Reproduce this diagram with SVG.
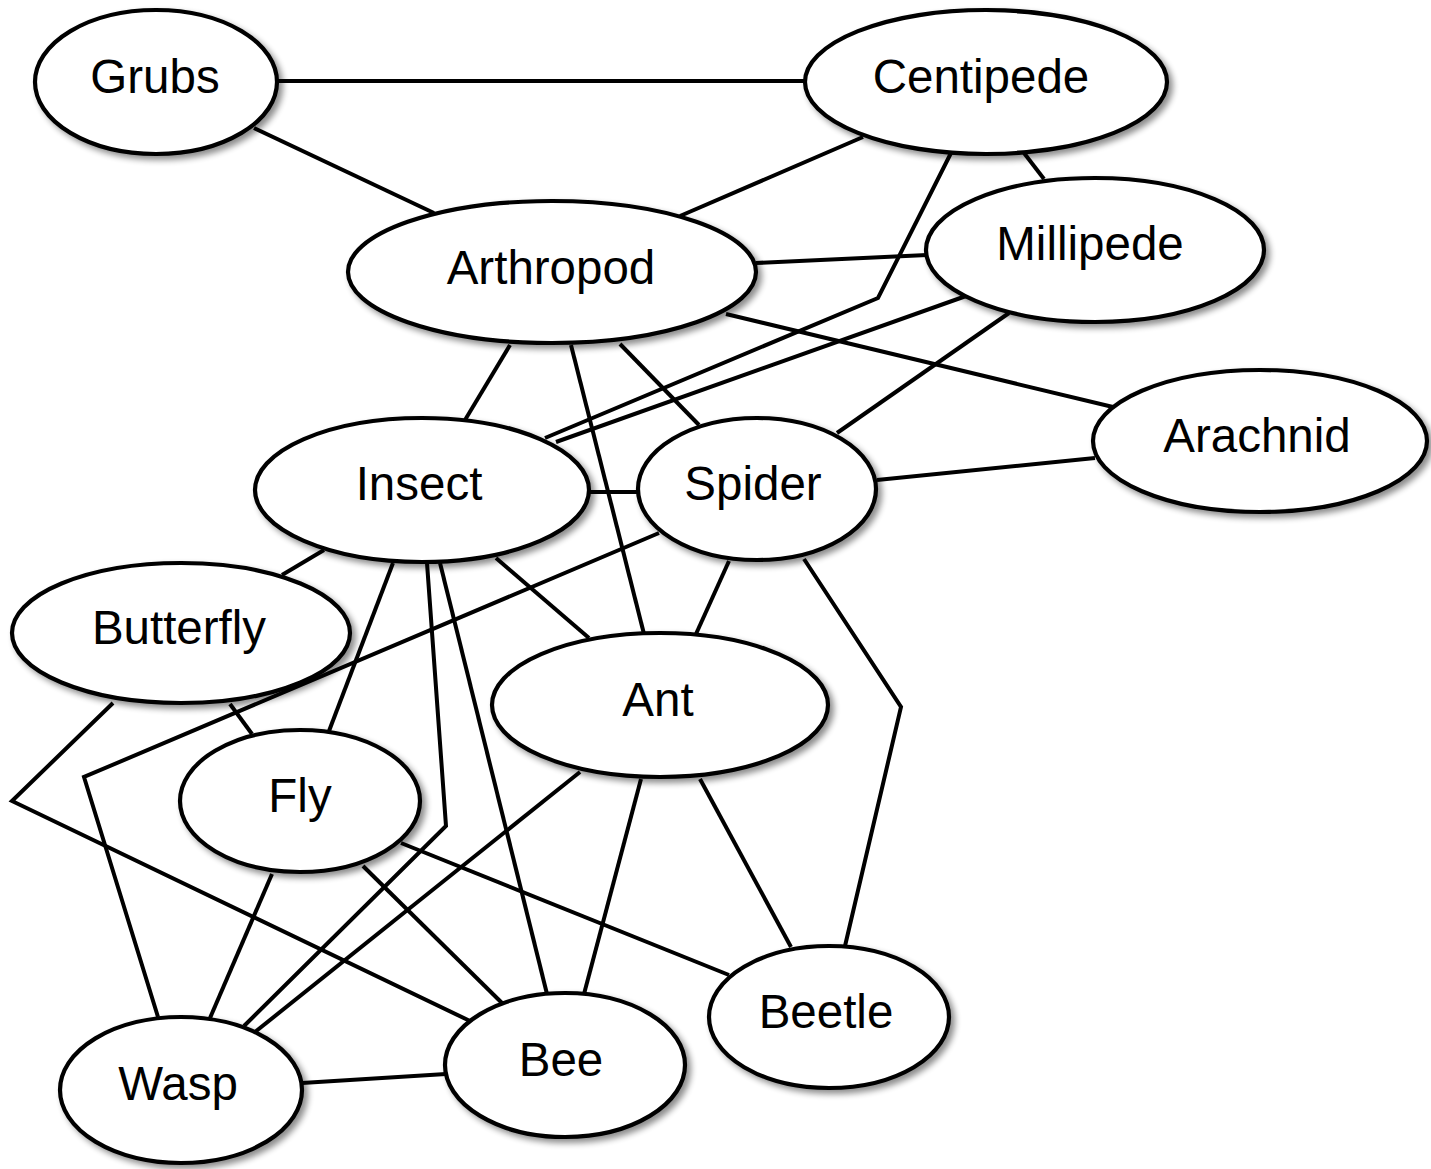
<svg xmlns="http://www.w3.org/2000/svg" width="1431" height="1169" viewBox="0 0 1431 1169">
<style>
.e{fill:none;stroke:#000;stroke-width:4;stroke-linejoin:miter;stroke-linecap:butt}
.n ellipse{fill:#fff;stroke:#000;stroke-width:4.2;filter:url(#sh)}
.n text{font-family:"Liberation Sans",Arial,Helvetica,sans-serif;font-size:47.5px;text-anchor:middle;fill:#000}
</style>
<defs>
<filter id="sh" x="-15%" y="-15%" width="135%" height="140%">
<feGaussianBlur in="SourceAlpha" stdDeviation="3"/>
<feOffset dx="4" dy="4" result="b"/>
<feComponentTransfer in="b" result="s"><feFuncA type="linear" slope="0.45"/></feComponentTransfer>
<feMerge><feMergeNode in="s"/><feMergeNode in="SourceGraphic"/></feMerge>
</filter>
</defs>
<rect width="1431" height="1169" fill="#fff"/>
<g id="edges">
<path class="e" d="M277,81 L805,81"/>
<path class="e" d="M254,128 L434,213"/>
<path class="e" d="M863,137 L680,216"/>
<path class="e" d="M1024,153 L1044,179"/>
<path class="e" d="M951,153 L878,298 L545,438"/>
<path class="e" d="M966,296 L556,442"/>
<path class="e" d="M756,263 L927,255"/>
<path class="e" d="M726,314 L1113,407"/>
<path class="e" d="M1009,313 L837,433"/>
<path class="e" d="M877,480 L1095,458"/>
<path class="e" d="M510,345 L465,420"/>
<path class="e" d="M571,345 L644,634"/>
<path class="e" d="M620,344 L699,425"/>
<path class="e" d="M589,492 L638,492"/>
<path class="e" d="M729,561 L696,634"/>
<path class="e" d="M804,559 L901,707 L845,946"/>
<path class="e" d="M324,550 L282,575"/>
<path class="e" d="M393,563 L329,731"/>
<path class="e" d="M427,563 L446,826 L244,1026"/>
<path class="e" d="M440,563 L547,994"/>
<path class="e" d="M496,558 L589,638"/>
<path class="e" d="M230,704 L252,734"/>
<path class="e" d="M113,703 L12,801 L470,1021"/>
<path class="e" d="M659,533 L84,777 L158,1017"/>
<path class="e" d="M272,874 L210,1018"/>
<path class="e" d="M363,866 L502,1003"/>
<path class="e" d="M401,843 L729,975"/>
<path class="e" d="M580,772 L255,1032"/>
<path class="e" d="M641,779 L584,994"/>
<path class="e" d="M700,779 L791,947"/>
<path class="e" d="M302,1083 L446,1074"/>
</g>
<g id="grubs" class="n"><ellipse cx="156" cy="82" rx="121" ry="72"/><text x="155" y="93">Grubs</text></g>
<g id="centipede" class="n"><ellipse cx="986" cy="82" rx="181" ry="72"/><text x="981" y="93">Centipede</text></g>
<g id="millipede" class="n"><ellipse cx="1095" cy="250" rx="169" ry="72"/><text x="1090" y="260">Millipede</text></g>
<g id="arthropod" class="n"><ellipse cx="552" cy="272" rx="204" ry="71"/><text x="551" y="284">Arthropod</text></g>
<g id="arachnid" class="n"><ellipse cx="1260" cy="441" rx="167" ry="71"/><text x="1257" y="452">Arachnid</text></g>
<g id="insect" class="n"><ellipse cx="422" cy="490" rx="167" ry="72"/><text x="419" y="500">Insect</text></g>
<g id="spider" class="n"><ellipse cx="757" cy="489" rx="119" ry="71"/><text x="753" y="500">Spider</text></g>
<g id="butterfly" class="n"><ellipse cx="181" cy="633" rx="169" ry="70"/><text x="179" y="644">Butterfly</text></g>
<g id="ant" class="n"><ellipse cx="660" cy="705" rx="168" ry="72"/><text x="658" y="716">Ant</text></g>
<g id="fly" class="n"><ellipse cx="300" cy="801" rx="120" ry="71"/><text x="300" y="812">Fly</text></g>
<g id="beetle" class="n"><ellipse cx="829" cy="1017" rx="120" ry="71"/><text x="826" y="1028">Beetle</text></g>
<g id="bee" class="n"><ellipse cx="565" cy="1065" rx="120" ry="72"/><text x="561" y="1076">Bee</text></g>
<g id="wasp" class="n"><ellipse cx="181" cy="1090" rx="121" ry="73"/><text x="178" y="1100">Wasp</text></g>
</svg>
